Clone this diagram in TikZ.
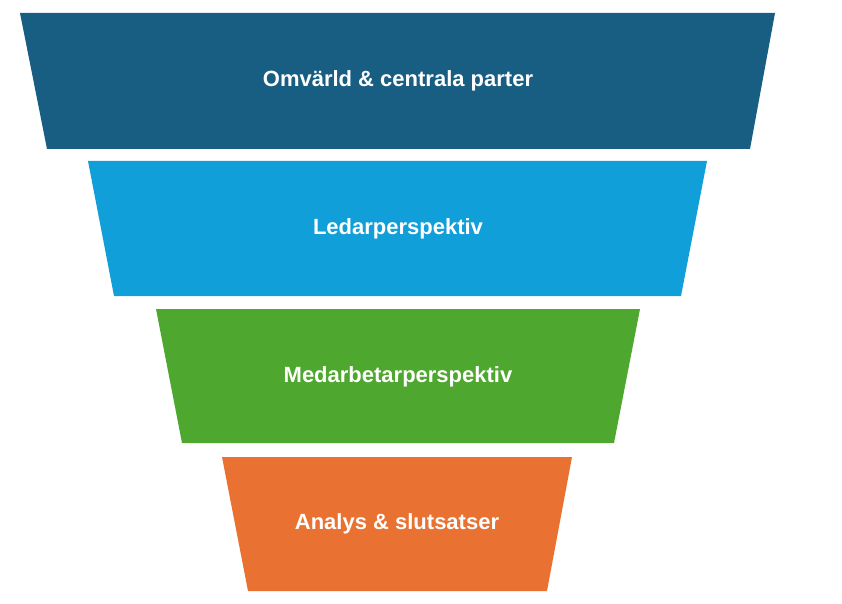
\documentclass[tikz,border=0pt]{standalone}
\usepackage{fontspec}
\setmainfont{Liberation Sans}
\begin{document}
\begin{tikzpicture}[x=1pt,y=-1pt,
  lbl/.style={text=white,font=\bfseries\fontsize{22}{26}\selectfont}]
\useasboundingbox (0,0) rectangle (842,604);
\definecolor{c1}{HTML}{175E82}
\definecolor{c2}{HTML}{109FD8}
\definecolor{c3}{HTML}{4EA72E}
\definecolor{c4}{HTML}{E97132}
\fill[c1] (20,13) -- (775,13) -- (750,149) -- (47,149) -- cycle;
\fill[c2] (88,161) -- (707,161) -- (681,296) -- (114,296) -- cycle;
\fill[c3] (156,309) -- (640,309) -- (614,443) -- (182,443) -- cycle;
\fill[c4] (222,457) -- (572,457) -- (547,591) -- (248,591) -- cycle;
\node[lbl] (t1) at (398,81) {Omvärld \& centrala parter};
\node[lbl] (t2) at (398,229) {Ledarperspektiv};
\node[lbl] (t3) at (398,377) {Medarbetarperspektiv};
\node[lbl] (t4) at (397,524) {Analys \& slutsatser};
\end{tikzpicture}
\end{document}
